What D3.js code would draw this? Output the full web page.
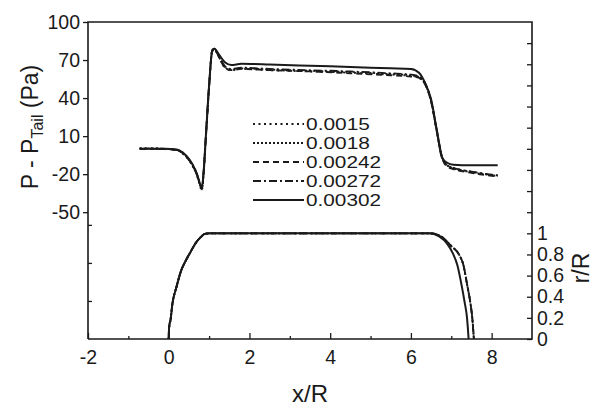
<!DOCTYPE html>
<html>
<head>
<meta charset="utf-8">
<script src="https://cdn.jsdelivr.net/npm/d3@7"></script>
<style>
  html, body { margin: 0; padding: 0; background: #fff; }
  svg { display: block; font-family: "Liberation Sans", Arial, sans-serif; }
</style>
</head>
<body>
<svg id="chart" width="595" height="407"></svg>
<script>
// Wall pressure relative to the tail and body radius profile along the axis

// Legend / series labels (grid spacing)
const seriesLabels = ["0.0015", "0.0018", "0.00242", "0.00272", "0.00302"];
const seriesDash = ["2,3.5", "2,2", "6,4", "8,3,2,3", null];

// Axial stations x/R for the pressure curves
const pressX = [-0.72, -0.4, -0.1, 0.2, 0.35, 0.5, 0.6, 0.7, 0.78, 0.82, 0.86, 0.92, 1.0, 1.08, 1.13,
  1.25, 1.4, 1.55, 1.8, 2.5, 3.5, 4.5, 5.5, 6.0, 6.2, 6.35, 6.5, 6.64, 6.77, 6.9, 7.05, 7.5, 8.15];

// P - P_Tail (Pa) for each grid
const press0015 = [0.5, 0.5, 0, -1, -4, -9, -14, -21, -30, -33, -22, 8, 48, 77, 78,
  72, 64, 62, 63, 62, 61, 60, 58.5, 57.5, 56, 51, 38, 14, -6, -13, -15, -18, -21];
const press0018 = [0.3, 0.3, 0, -1, -3.5, -9, -14, -21, -29, -32, -21, 9, 49, 77, 78,
  72, 64, 62.5, 63.5, 62.5, 61.5, 60.5, 59, 58, 56.5, 51, 38, 14, -6, -13, -15.5, -18.5, -21.5];
const press00242 = [0, 0, -0.3, -1, -3.5, -8.5, -13.5, -20.5, -28.5, -31.5, -21, 9, 49, 78, 78.5,
  72, 63.5, 62, 63, 62, 61, 59.5, 58, 57, 56, 51, 37, 14, -7, -14, -16, -19, -22];
const press00272 = [0, 0, -0.2, -0.8, -3, -8.5, -13, -20, -28, -31, -20, 10, 50, 78, 79,
  73, 65, 63, 64, 63, 62, 61, 59.5, 58.5, 57, 52, 38, 15, -6, -13, -15, -18, -21];
const press00302 = [0, 0, 0, -0.5, -3, -8, -13, -20, -28, -31, -20, 10, 50, 78, 79,
  74, 68, 66, 67, 66.5, 65.5, 64.5, 63.5, 63, 60, 52, 39, 15, -7, -11, -12.5, -13, -13];

// Body profile r/R against x/R
const bodyX = [0, 0.005, 0.02, 0.04, 0.09, 0.19, 0.31, 0.42, 0.52, 0.69, 0.81, 0.89, 1.0, 1.3, 3.5, 6.0, 6.5,
  6.75, 7.0, 7.19, 7.3, 7.4, 7.47, 7.52, 7.56];
const bodyR = [0, 0.08, 0.14, 0.17, 0.33, 0.49, 0.65, 0.74, 0.81, 0.92, 0.97, 0.995, 1.0, 1.0, 1.0, 1.0, 1.0,
  0.97, 0.88, 0.8, 0.7, 0.5, 0.35, 0.2, 0];
const bodyXSolid = [0, 0.005, 0.02, 0.04, 0.09, 0.19, 0.31, 0.42, 0.52, 0.69, 0.81, 0.89, 1.0, 1.3, 3.5, 6.0, 6.45,
  6.7, 6.9, 7.04, 7.15, 7.26, 7.33, 7.39, 7.43];
const bodyRSolid = [0, 0.08, 0.14, 0.17, 0.33, 0.49, 0.65, 0.74, 0.81, 0.92, 0.97, 0.995, 1.0, 1.0, 1.0, 1.0, 1.0,
  0.97, 0.9, 0.81, 0.7, 0.5, 0.35, 0.2, 0];

// Tick values
const xMajorTicks = [-2, 0, 2, 4, 6, 8];
const xMinorTicks = [-1, 1, 3, 5, 7];
const pTicks = [100, 70, 40, 10, -20, -50];
const pInnerTicks = [-60, -90, -120];
const rTicks = [0, 0.2, 0.4, 0.6, 0.8, 1, 1.2, 1.4, 1.6, 1.8, 2, 2.2, 2.4, 2.6, 2.8];
const rLabelled = [0, 0.2, 0.4, 0.6, 0.8, 1];

const pressSeries = [press0015, press0018, press00242, press00272, press00302];

const svg = d3.select("#chart");
const plotLeft = 88, plotRight = 532, plotTop = 22, plotBottom = 339;
const ink = "#1a1a1a";
// Plain hyphen-minus labels
const plainNum = d => String(+d.toFixed(3));

const x = d3.scaleLinear().domain([-2, 9]).range([plotLeft, plotRight]);
const yP = d3.scaleLinear().domain([-150, 100]).range([plotBottom, plotTop]);
const yR = d3.scaleLinear().domain([0, 3]).range([plotBottom, plotTop]);

function styleAxis(g) {
  g.select(".domain").remove();
  g.selectAll(".tick line").attr("stroke", ink).attr("stroke-width", 1.3);
  g.selectAll(".tick text").attr("fill", ink).attr("font-size", 19.5)
    .attr("font-family", "'Liberation Sans', Arial, sans-serif");
}

// Left pressure axis: outward labelled ticks
svg.append("g").attr("transform", `translate(${plotLeft},0)`)
  .call(d3.axisLeft(yP).tickValues(pTicks).tickSize(5).tickPadding(3).tickFormat(plainNum))
  .call(styleAxis);
// Left axis: lower inward ticks
svg.append("g").attr("transform", `translate(${plotLeft},0)`)
  .call(d3.axisRight(yP).tickValues(pInnerTicks).tickSize(4).tickFormat(""))
  .call(styleAxis);

// Right radius axis: inward ticks, labels outside
svg.append("g").attr("transform", `translate(${plotRight},0)`)
  .call(d3.axisRight(yR).tickValues(rTicks).tickSizeInner(-5).tickSizeOuter(0).tickPadding(5)
    .tickFormat(d => rLabelled.some(v => Math.abs(v - d) < 1e-9) ? plainNum(d) : ""))
  .call(styleAxis);

// Bottom axis: inward ticks
svg.append("g").attr("transform", `translate(0,${plotBottom})`)
  .call(d3.axisBottom(x).tickValues(xMajorTicks).tickSizeInner(-6).tickSizeOuter(0).tickPadding(6)
    .tickFormat(plainNum))
  .call(styleAxis)
  .call(g => g.selectAll(".tick text").attr("dy", "0.95em"));
svg.append("g").attr("transform", `translate(0,${plotBottom})`)
  .call(d3.axisBottom(x).tickValues(xMinorTicks).tickSizeInner(-3).tickSizeOuter(0).tickFormat(""))
  .call(styleAxis);

// Frame
svg.append("path")
  .attr("d", `M${plotLeft},${plotBottom}V${plotTop}H${plotRight}V${plotBottom}H${plotLeft}`)
  .attr("fill", "none").attr("stroke", ink).attr("stroke-width", 1.6);

// Pressure curves
const pLine = d3.line().curve(d3.curveMonotoneX);
pressSeries.forEach((vals, i) => {
  svg.append("path")
    .attr("d", pLine(pressX.map((xv, k) => [x(xv), yP(vals[k])])))
    .attr("fill", "none").attr("stroke", ink)
    .attr("stroke-width", i === 4 ? 2 : 1.8)
    .attr("stroke-dasharray", seriesDash[i]);
});

// Body profiles
const bLine = d3.line().curve(d3.curveMonotoneX);
[0, 1, 2, 3].forEach(i => {
  svg.append("path")
    .attr("d", bLine(bodyX.map((xv, k) => [x(xv), yR(bodyR[k])])))
    .attr("fill", "none").attr("stroke", ink).attr("stroke-width", 1.8)
    .attr("stroke-dasharray", seriesDash[i]);
});
svg.append("path")
  .attr("d", bLine(bodyXSolid.map((xv, k) => [x(xv), yR(bodyRSolid[k])])))
  .attr("fill", "none").attr("stroke", ink).attr("stroke-width", 2);

// Legend
const legend = svg.append("g");
seriesLabels.forEach((lab, i) => {
  const cy = 124 + i * 19;
  legend.append("line")
    .attr("x1", 253).attr("x2", 304).attr("y1", cy).attr("y2", cy)
    .attr("stroke", ink).attr("stroke-width", i === 4 ? 2 : 1.8)
    .attr("stroke-dasharray", seriesDash[i]);
  legend.append("text")
    .attr("x", 306).attr("y", cy).attr("dy", "0.36em")
    .attr("font-size", 17).attr("fill", ink)
    .attr("textLength", lab.length === 6 ? 64 : 75).attr("lengthAdjust", "spacingAndGlyphs")
    .text(lab);
});

// Axis titles
svg.append("text")
  .attr("x", x(3.5)).attr("y", 402).attr("text-anchor", "middle")
  .attr("font-size", 24).attr("fill", ink).text("x/R");

const yTitle = svg.append("text")
  .attr("transform", "translate(38,127) rotate(-90)")
  .attr("text-anchor", "middle").attr("font-size", 23).attr("fill", ink);
yTitle.append("tspan").text("P - P");
yTitle.append("tspan").attr("font-size", 16).attr("dy", 5).text("Tail");
yTitle.append("tspan").attr("dy", -5).text(" (Pa)");

svg.append("text")
  .attr("transform", "translate(589,268) rotate(-90)")
  .attr("text-anchor", "middle").attr("font-size", 23).attr("fill", ink).text("r/R");
</script>
</body>
</html>
